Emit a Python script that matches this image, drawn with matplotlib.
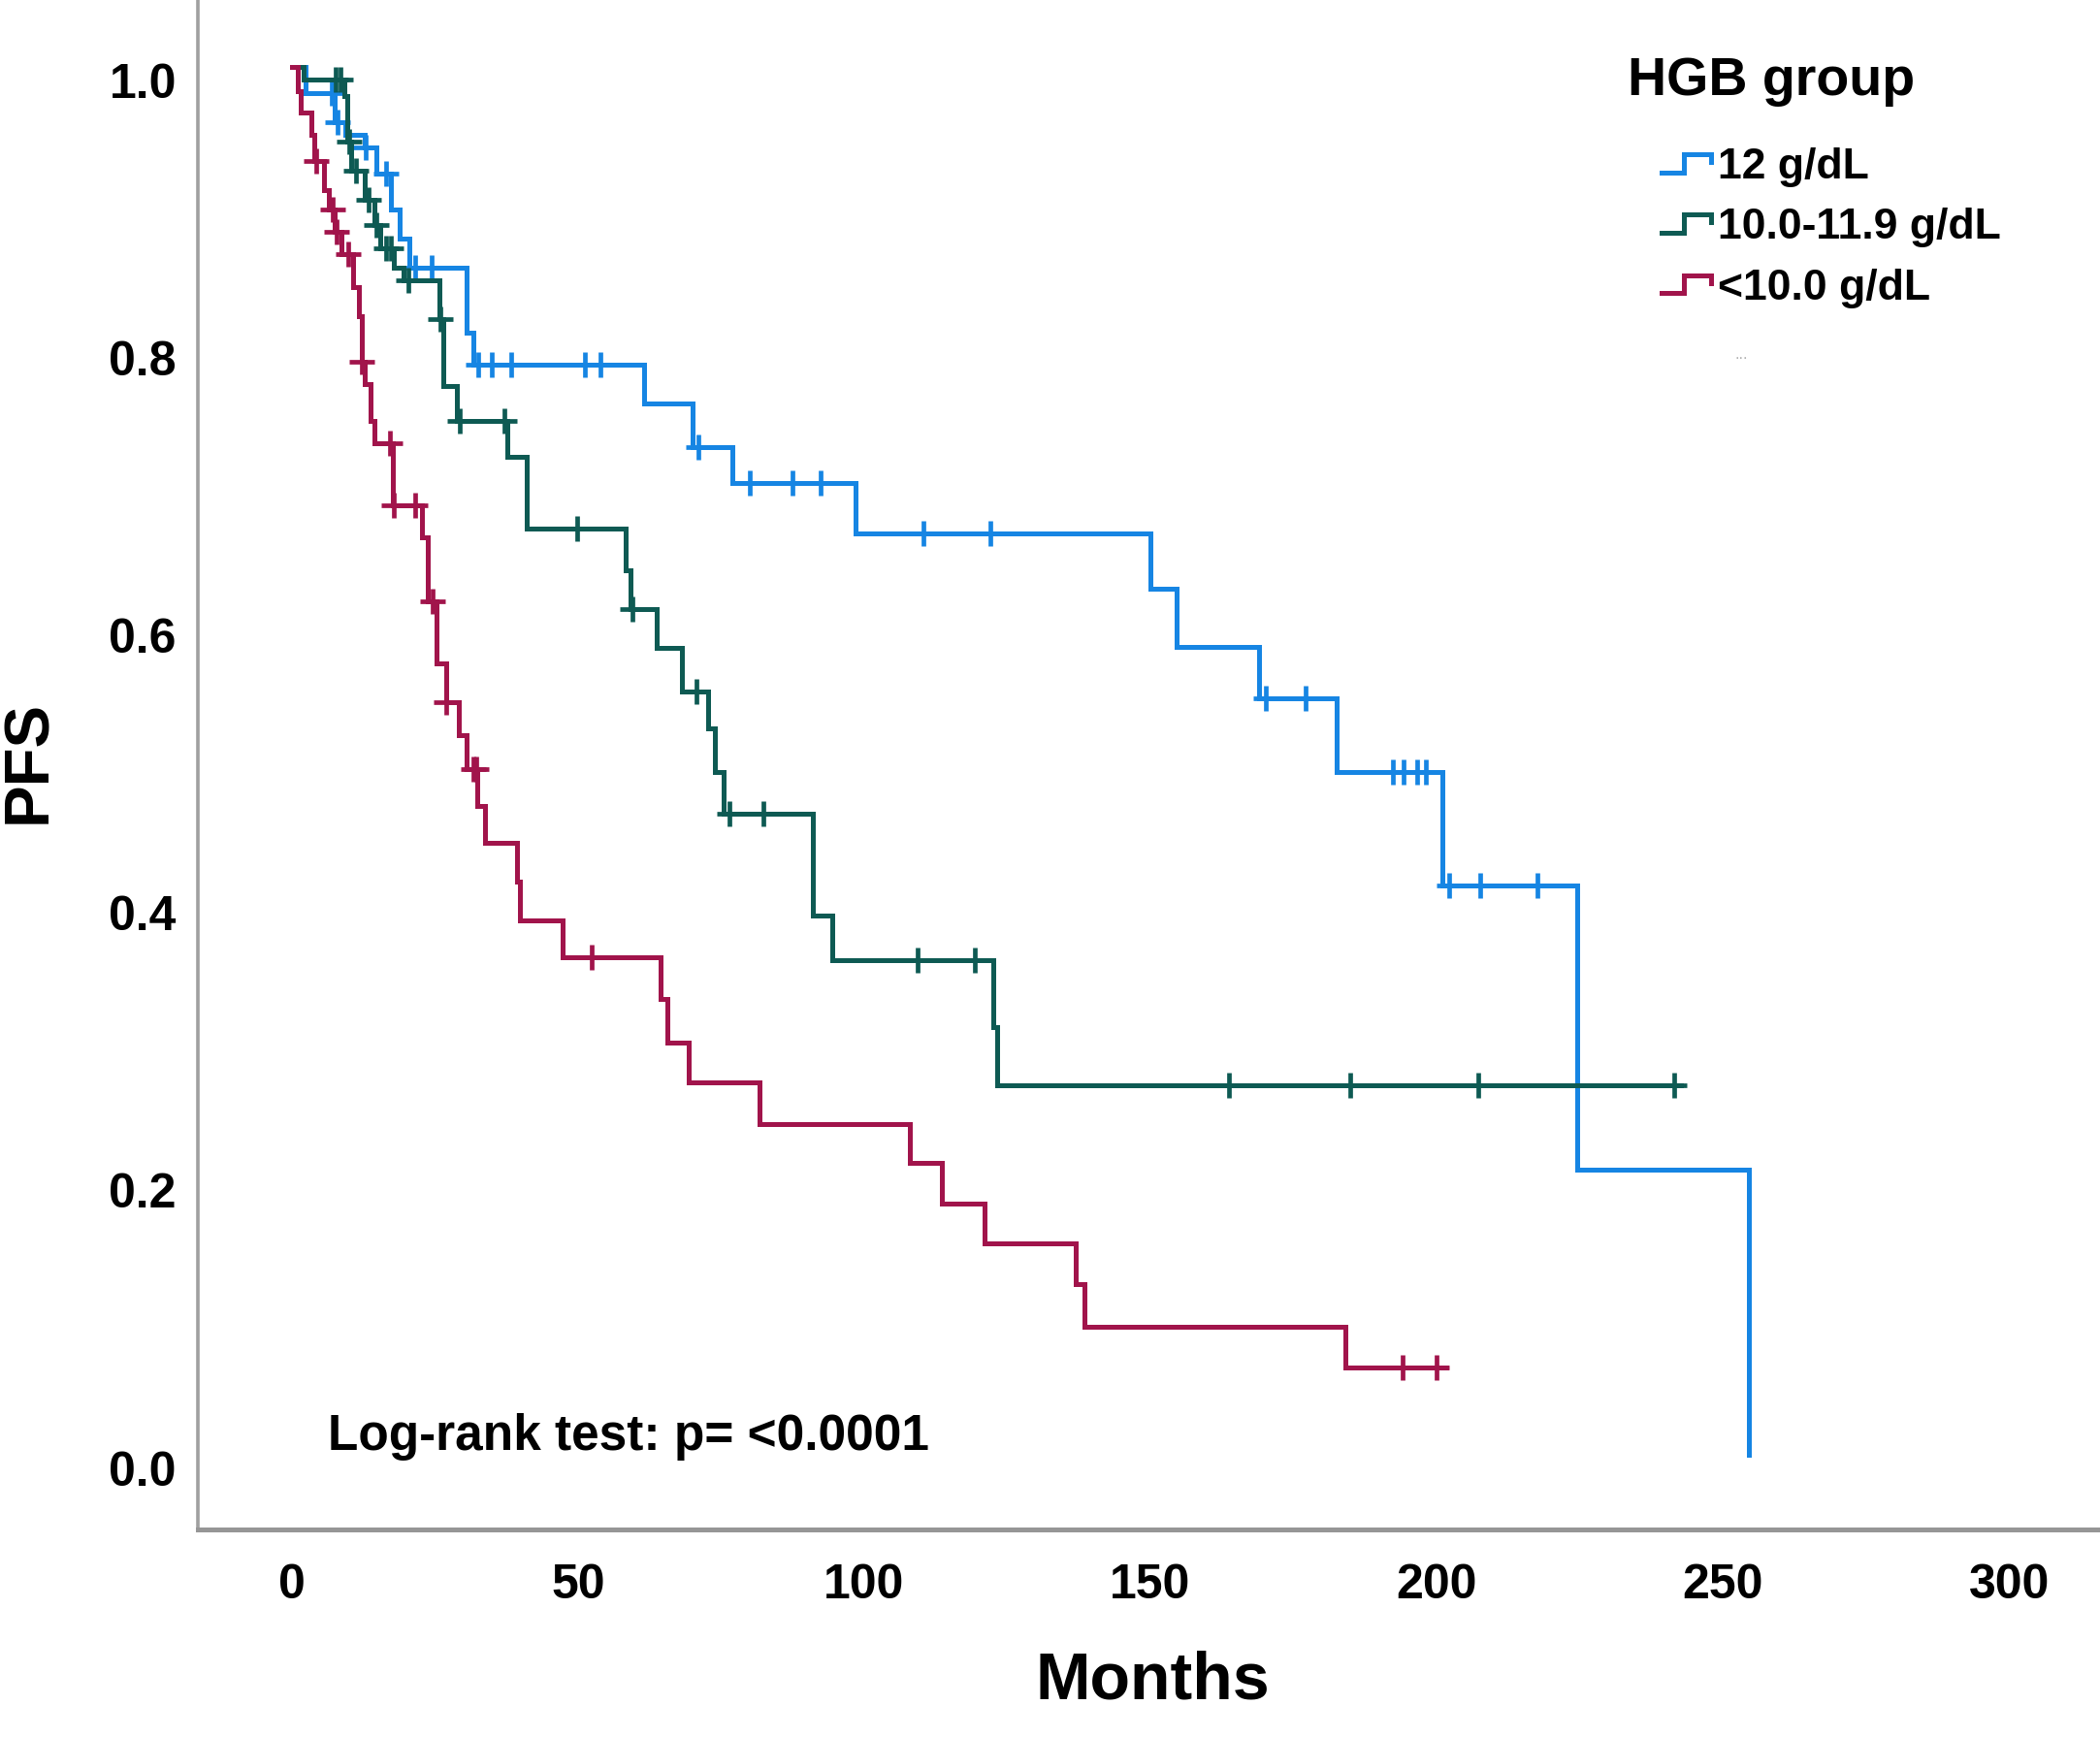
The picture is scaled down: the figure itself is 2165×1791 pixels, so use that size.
import numpy as np
import matplotlib
matplotlib.use("Agg")
import matplotlib.pyplot as plt
from matplotlib.lines import Line2D
from matplotlib.legend_handler import HandlerBase
from matplotlib.transforms import ScaledTranslation

plt.rcParams["font.family"] = ["Liberation Sans", "DejaVu Sans"]

# ─── Data ─────────────────────────────────────────────────────────────────────

group_names = ["12 g/dL", "10.0-11.9 g/dL", "<10.0 g/dL"]
group_colors = ["#1685e3", "#0e5a53", "#a1144b"]

# 12 g/dL
hi_event_t = [2.4, 7.5, 9.4, 12.8, 14.8, 17.3, 18.8, 20.5, 30.6, 31.7, 61.5, 70.0,
              77.0, 98.5, 150.0, 154.5, 169.0, 182.5, 201.0, 224.5, 254.6]
hi_surv = [0.981, 0.960, 0.951, 0.942, 0.923, 0.897, 0.876, 0.855, 0.808, 0.785, 0.757,
           0.726, 0.700, 0.664, 0.624, 0.582, 0.545, 0.492, 0.410, 0.205, 0.0]
hi_end = 254.6
hi_censor = [7.0, 8.0, 13.0, 16.5, 21.5, 24.5, 32.5, 35.0, 38.3, 51.2, 54.0, 71.0, 80.0,
             87.5, 92.4, 110.4, 122.1, 170.1, 177.1, 192.3, 194.2, 196.6, 198.2,
             202.2, 207.6, 217.6]

# 10.0-11.9 g/dL
mid_event_t = [2.1, 9.2, 9.7, 10.3, 12.8, 14.5, 15.4, 17.9, 19.6, 25.8, 26.4, 28.9,
               37.7, 41.1, 58.3, 59.2, 63.7, 68.2, 72.7, 74.0, 75.5, 91.0, 94.5,
               122.6, 123.3]
mid_surv = [0.991, 0.979, 0.946, 0.925, 0.904, 0.886, 0.869, 0.855, 0.846, 0.818, 0.770,
            0.745, 0.719, 0.667, 0.637, 0.609, 0.581, 0.550, 0.523, 0.492, 0.462,
            0.388, 0.356, 0.308, 0.266]
mid_end = 242.7
mid_censor = [7.6, 8.5, 10.0, 11.3, 13.5, 14.8, 16.5, 17.4, 20.3, 26.0, 29.4, 37.1,
              49.8, 59.5, 70.7, 76.5, 82.4, 109.3, 119.3, 163.8, 184.9, 207.3, 241.5]

# <10.0 g/dL
lo_event_t = [1.0, 1.5, 3.5, 4.0, 5.6, 6.5, 7.5, 8.7, 10.7, 11.8, 12.3, 12.8, 13.7,
              14.5, 17.6, 22.7, 23.8, 25.3, 26.9, 29.2, 30.6, 32.4, 33.7, 39.4, 39.8,
              47.3, 64.5, 65.6, 69.3, 81.7, 108.0, 113.5, 121.0, 137.0, 138.5, 184.0]
lo_surv = [0.982, 0.967, 0.951, 0.932, 0.911, 0.897, 0.881, 0.865, 0.841, 0.820, 0.787,
           0.771, 0.745, 0.729, 0.684, 0.661, 0.615, 0.570, 0.542, 0.518, 0.494, 0.467,
           0.441, 0.413, 0.385, 0.358, 0.328, 0.297, 0.268, 0.238, 0.210, 0.181, 0.152,
           0.123, 0.092, 0.063]
lo_end = 201.7
lo_censor = [4.3, 7.2, 7.8, 9.8, 12.3, 17.1, 17.9, 21.6, 24.6, 27.0, 31.8, 32.2, 52.4,
             194.0, 200.0]

x_ticks = [0, 50, 100, 150, 200, 250, 300]
y_ticks = [0.0, 0.2, 0.4, 0.6, 0.8, 1.0]

groups = [
    (hi_event_t, hi_surv, hi_end, hi_censor),
    (mid_event_t, mid_surv, mid_end, mid_censor),
    (lo_event_t, lo_surv, lo_end, lo_censor),
]


class StepHandler(HandlerBase):
    """Small SPSS-style step glyph for the legend."""

    def create_artists(self, legend, orig_handle, xdescent, ydescent,
                       width, height, fontsize, trans):
        xs = np.array([0.0, 0.45, 0.45, 1.0, 1.0]) * width - xdescent
        ys = np.array([0.2, 0.2, 0.8, 0.8, 0.55]) * height - ydescent
        line = Line2D(xs, ys, color=orig_handle.get_color(),
                      lw=orig_handle.get_linewidth(), solid_joinstyle="miter",
                      transform=trans)
        return [line]


def main():
    fig = plt.figure(figsize=(21.65, 17.91), dpi=100)
    ax = fig.add_axes([204 / 2165, 1 - 1577 / 1791, 1 - 204 / 2165, 1577 / 1791])

    handles = []
    for (ev_t, surv, t_end, cens), color, name in zip(groups, group_colors, group_names):
        xs = np.concatenate([[0.0], ev_t, [t_end]])
        ys = np.concatenate([[1.0], surv, [surv[-1]]])
        line, = ax.step(xs, ys, where="post", color=color, lw=3.6, label=name,
                        solid_joinstyle="miter")
        # censor marks sit on the curve
        idx = np.searchsorted(xs, cens, side="right") - 1
        ax.plot(cens, ys[idx], ls="none", marker="+", ms=19, mew=3.4, color=color)
        handles.append(line)

    ax.set_xlim(-16.4, 315.9)
    ax.set_ylim(-0.054, 1.048)
    ax.set_xticks(x_ticks)
    ax.set_yticks(y_ticks)
    ax.set_yticklabels([f"{v:.1f}" for v in y_ticks])
    ax.tick_params(axis="both", length=0, labelsize=36)
    ax.tick_params(axis="x", pad=25)
    ax.tick_params(axis="y", pad=16)
    for lab in ax.get_xticklabels() + ax.get_yticklabels():
        lab.set_fontweight("bold")
    # SPSS draws the y labels a little below their gridline level
    shift = ScaledTranslation(0, -10 / 72, fig.dpi_scale_trans)
    for tick in ax.yaxis.get_major_ticks():
        tick.label1.set_transform(tick.label1.get_transform() + shift)

    for side in ("top", "right"):
        ax.spines[side].set_visible(False)
    ax.spines["left"].set_color("#a0a0a0")
    ax.spines["left"].set_linewidth(2.6)
    ax.spines["bottom"].set_color("#969696")
    ax.spines["bottom"].set_linewidth(3.6)

    ax.set_xlabel("Months", fontsize=49, fontweight="bold", va="center")
    ax.xaxis.set_label_coords(0.502, -0.099)
    ax.set_ylabel("PFS", fontsize=47, fontweight="bold", va="center")
    ax.yaxis.set_label_coords(-0.0887, 0.502)

    ax.text(6.3, 0.013, "Log-rank test: p= <0.0001", fontsize=37, fontweight="bold",
            va="center", ha="left")

    # legend
    fig.text(1678 / 2165, 1 - 84 / 1791, "HGB group", fontsize=40, fontweight="bold",
             va="center", ha="left")
    fig.legend(handles=handles, labels=group_names, loc="upper left",
               bbox_to_anchor=(1713 / 2165, 1 - 152 / 1791), frameon=False,
               borderpad=0, borderaxespad=0, handlelength=1.15, handleheight=0.7,
               handletextpad=0.15, labelspacing=0.48,
               prop={"size": 32, "weight": "bold"},
               handler_map={Line2D: StepHandler()})
    fig.text(1788 / 2165, 1 - 365 / 1791, "...", fontsize=12, color="#b0b0b0",
             va="center", ha="left")

    fig.savefig("out.png", dpi=100)


if __name__ == "__main__":
    main()
